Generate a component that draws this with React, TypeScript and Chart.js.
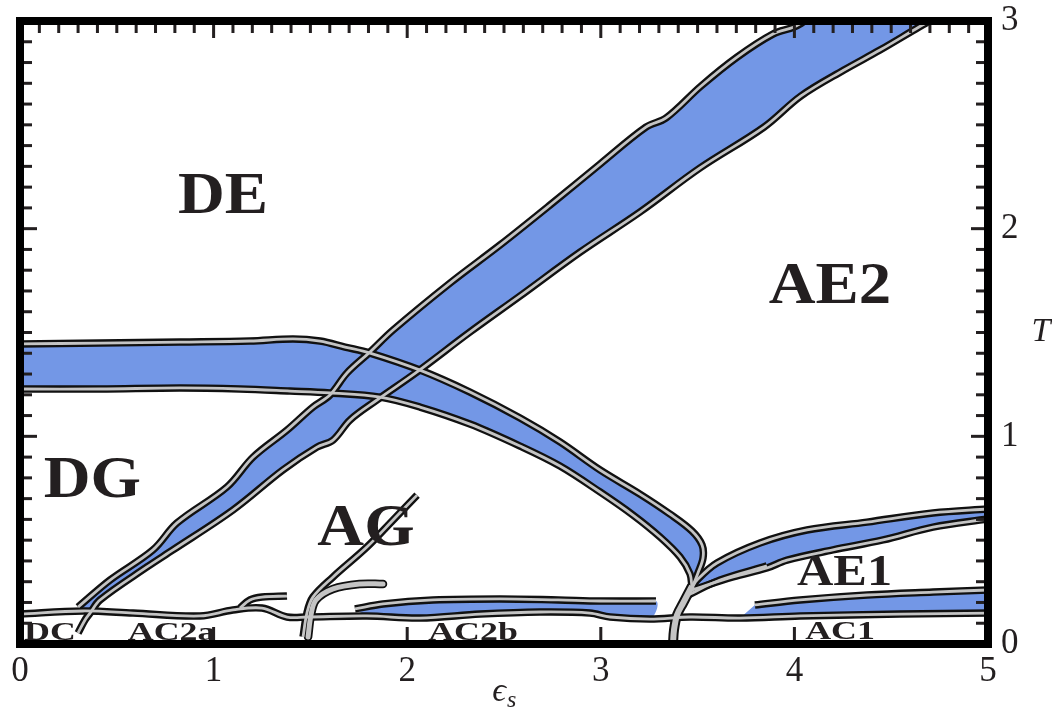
import React, { useEffect, useRef } from 'react';
import { Chart, registerables } from 'chart.js';

Chart.register(...registerables);

type P = { x: number; y: number };
const pts = (a: number[][]): P[] => a.map(([x, y]) => ({ x, y }));

// Axis ticks (ε_s along the bottom, T on the right)
const EPS_TICKS = [0, 1, 2, 3, 4, 5];
const T_TICKS = [0, 1, 2, 3];

// DG → DE crossover band, bending down into the triple point near ε_s ≈ 3.47
const DG_DE_UPPER = pts([
  [0, 1.445], [0.413, 1.449], [0.826, 1.454], [1.188, 1.459], [1.41, 1.469], [1.55, 1.459],
  [1.679, 1.43], [1.808, 1.401], [2.066, 1.319], [2.324, 1.213], [2.583, 1.088], [2.789, 0.973],
  [2.996, 0.838], [3.202, 0.722], [3.357, 0.626], [3.471, 0.544], [3.523, 0.477], [3.528, 0.414],
  [3.502, 0.342], [3.471, 0.27],
]);
const DG_DE_LOWER = pts([
  [0, 1.228], [0.413, 1.228], [0.826, 1.233], [1.136, 1.228], [1.395, 1.218], [1.601, 1.209],
  [1.86, 1.189], [2.066, 1.141], [2.324, 1.059], [2.583, 0.953], [2.789, 0.857], [2.996, 0.732],
  [3.166, 0.621], [3.306, 0.515], [3.409, 0.419], [3.461, 0.337], [3.471, 0.27],
]);

// AG/DG → DE/AE2 diagonal band
const AG_AE2_UPPER = pts([
  [0.3, 0.178], [0.465, 0.308], [0.687, 0.453], [0.811, 0.583], [1.069, 0.756], [1.204, 0.9],
  [1.379, 1.03], [1.513, 1.141], [1.601, 1.199], [1.689, 1.305], [1.808, 1.406], [1.927, 1.512],
  [2.221, 1.738], [2.479, 1.921], [2.738, 2.114], [2.996, 2.311], [3.233, 2.489], [3.337, 2.533],
  [3.518, 2.687], [3.704, 2.826], [3.889, 2.937], [3.998, 2.971], [4.055, 3.0],
]);
const AG_AE2_LOWER = pts([
  [0.3, 0.053], [0.336, 0.116], [0.362, 0.149], [0.413, 0.212], [0.656, 0.371], [0.79, 0.453],
  [1.1, 0.645], [1.358, 0.838], [1.534, 0.948], [1.617, 0.982], [1.705, 1.079], [1.844, 1.175],
  [2.051, 1.31], [2.324, 1.502], [2.583, 1.676], [2.893, 1.887], [3.202, 2.08], [3.512, 2.292],
  [3.843, 2.489], [4.034, 2.639], [4.256, 2.764], [4.442, 2.86], [4.644, 2.971], [4.7, 3.0],
]);

// AE1 band fanning out of the triple point
const AE1_UPPER = pts([
  [3.471, 0.27], [3.497, 0.308], [3.6, 0.39], [3.822, 0.486], [4.065, 0.549], [4.375, 0.587],
  [4.716, 0.631], [5.0, 0.65],
]);
const AE1_LOWER = pts([
  [3.471, 0.26], [3.683, 0.323], [3.858, 0.366], [3.962, 0.404], [4.199, 0.453], [4.458, 0.501],
  [4.716, 0.563], [5.0, 0.602],
]);
const AE1_INNER = pts([[3.45, 0.236], [3.616, 0.308], [3.858, 0.376]]);

// Merged boundary below the triple point
const TRIPLE_STEM = pts([[3.471, 0.279], [3.425, 0.197], [3.394, 0.14], [3.378, 0.067], [3.373, 0.0]]);

// Low-temperature condensed boundary
const BASELINE = pts([
  [0, 0.144], [0.325, 0.159], [0.584, 0.149], [0.93, 0.135], [1.1, 0.164], [1.25, 0.173],
  [1.379, 0.13], [1.482, 0.13], [1.792, 0.135], [2.066, 0.125], [2.376, 0.144], [2.686, 0.154],
  [2.944, 0.149], [3.048, 0.13], [3.254, 0.12], [3.461, 0.13], [3.719, 0.125], [4.029, 0.135],
  [4.545, 0.144], [5.0, 0.149],
]);
const AC2B_TOP = pts([
  [1.73, 0.169], [1.875, 0.193], [2.133, 0.212], [2.479, 0.217], [2.78, 0.212], [2.996, 0.207], [3.285, 0.207],
]);
const AC1_TOP = pts([[3.796, 0.188], [4.029, 0.212], [4.375, 0.236], [4.716, 0.25], [5.0, 0.26]]);

// Short boundaries inside AC2a / AG
const AC2A_HOOK = pts([[1.136, 0.173], [1.188, 0.212], [1.25, 0.226], [1.379, 0.231]]);
const AG_SPLIT_LINE = pts([
  [1.462, 0.034], [1.482, 0.149], [1.513, 0.226], [1.617, 0.323], [1.792, 0.467], [1.927, 0.597], [2.051, 0.717],
]);
const AG_SPLIT_BRANCH = pts([
  [1.488, 0.034], [1.503, 0.14], [1.529, 0.212], [1.617, 0.265], [1.756, 0.289], [1.875, 0.289],
]);

// Phase labels and their anchor (centre, baseline) in (ε_s, T)
const REGION_NAMES = ['DE', 'DG', 'AG', 'AE2', 'AE1', 'DC', 'AC2a', 'AC2b', 'AC1'];
const REGION_EPS = [1.049, 0.374, 1.787, 4.184, 4.259, 0.155, 0.783, 2.34, 4.236];
const REGION_T = [2.075, 0.708, 0.477, 1.642, 0.284, 0.019, 0.019, 0.019, 0.024];

const BLUE = '#7397e6';
const CASE = '#111111';
const CORE = '#c4c4c4';
const INK = '#231f20';
const SERIF = "'Liberation Serif', 'DejaVu Serif', serif";
const TENSION = 0.35;

// baseline points lying under a band; `reach` extends one sample past the left end
const under = (line: P[], lo: number, hi: number, reach = false) => {
  let i0 = line.findIndex((p) => p.x >= lo);
  if (reach) i0 = Math.max(0, i0 - 1);
  let i1 = line.length - 1;
  for (let i = line.length - 1; i >= 0; i--) {
    if (line[i].x <= hi) {
      i1 = i;
      break;
    }
  }
  return line.slice(i0, i1 + 1);
};

const bandPoly = (upper: P[], lower: P[]): P[] => [...upper, ...lower.slice().reverse()];

function band(data: P[]) {
  return {
    data,
    borderWidth: 0,
    backgroundColor: BLUE,
    fill: 'shape',
    pointRadius: 0,
    tension: TENSION,
    order: 10,
  };
}

function cased(data: P[], outer = 7.5, inner = 2.8, cap: CanvasLineCap = 'butt') {
  const base = {
    data,
    fill: false,
    pointRadius: 0,
    tension: TENSION,
    borderCapStyle: cap,
    borderJoinStyle: 'round' as CanvasLineJoin,
  };
  return [
    { ...base, borderColor: CASE, borderWidth: outer, order: 5 },
    { ...base, borderColor: CORE, borderWidth: inner, order: 1 },
  ];
}

const labelStyle = (name: string) => {
  if (name === 'AE1') return { size: 45, stretch: 1.12 };
  if (['DE', 'DG', 'AG', 'AE2'].includes(name)) return { size: 60, stretch: 1.08 };
  return { size: 26, stretch: 1.38 };
};

const framePlugin = {
  id: 'phaseFrame',
  afterDatasetsDraw(chart: any) {
    const { ctx, scales } = chart;
    const xs = scales.x;
    const ys = scales.y;
    const L = xs.getPixelForValue(0);
    const R = xs.getPixelForValue(5);
    const B = ys.getPixelForValue(0);
    const Tp = ys.getPixelForValue(3);
    ctx.save();

    // inward tick marks
    ctx.fillStyle = INK;
    for (let i = 0; i <= 30; i++) {
      const py = ys.getPixelForValue(i / 10);
      const len = i % 10 === 0 ? 17 : 12;
      ctx.fillRect(L, py - 1.5, len, 3);
      ctx.fillRect(R - len, py - 1.5, len, 3);
    }
    for (let i = 0; i <= 50; i++) {
      const px = xs.getPixelForValue(i / 10);
      const major = i % 10 === 0;
      ctx.fillRect(px - 1.5, Tp, 3, major ? 17 : 12);
      if (major) ctx.fillRect(px - 1.5, B - 17, 3, 17);
    }

    // heavy frame
    ctx.lineWidth = 8;
    ctx.strokeStyle = '#000';
    ctx.strokeRect(L, Tp, R - L, B - Tp);

    // phase labels
    ctx.fillStyle = INK;
    ctx.textAlign = 'center';
    ctx.textBaseline = 'alphabetic';
    REGION_NAMES.forEach((name, i) => {
      const { size, stretch } = labelStyle(name);
      ctx.save();
      ctx.font = `bold ${size}px ${SERIF}`;
      ctx.translate(xs.getPixelForValue(REGION_EPS[i]), ys.getPixelForValue(REGION_T[i]));
      ctx.scale(stretch, 1);
      ctx.fillText(name, 0, 0);
      ctx.restore();
    });

    // axis titles
    const cx = (L + R) / 2;
    ctx.font = `italic 34px ${SERIF}`;
    ctx.textAlign = 'right';
    ctx.fillText('\u03f5', cx + 2, B + 57);
    ctx.font = `italic 24px ${SERIF}`;
    ctx.textAlign = 'left';
    ctx.fillText('s', cx + 3, B + 63);
    ctx.font = `italic 34px ${SERIF}`;
    ctx.textAlign = 'center';
    ctx.textBaseline = 'middle';
    ctx.fillText('T', R + 53, (Tp + B) / 2);
    ctx.restore();
  },
};

export default function App() {
  const ref = useRef<HTMLCanvasElement | null>(null);

  useEffect(() => {
    document.body.style.margin = '0';
    if (!ref.current) return;

    const datasets: any[] = [
      band(bandPoly(DG_DE_UPPER, DG_DE_LOWER)),
      band(bandPoly(AG_AE2_UPPER, AG_AE2_LOWER.slice(2))),
      band(bandPoly(AE1_UPPER, AE1_LOWER)),
      band(bandPoly(AC2B_TOP, under(BASELINE, AC2B_TOP[0].x, AC2B_TOP[AC2B_TOP.length - 1].x))),
      band(bandPoly(AC1_TOP, under(BASELINE, AC1_TOP[0].x, 5, true))),
      ...cased(BASELINE),
      ...cased(AC2B_TOP),
      ...cased(AC1_TOP),
      ...cased(AC2A_HOOK),
      ...cased(AG_SPLIT_LINE),
      ...cased(AG_SPLIT_BRANCH, 8.5, 5, 'round'),
      ...cased(DG_DE_UPPER),
      ...cased(DG_DE_LOWER),
      ...cased(AG_AE2_UPPER),
      ...cased(AG_AE2_LOWER),
      ...cased(AE1_UPPER),
      ...cased(AE1_LOWER),
      ...cased(AE1_INNER),
      ...cased(TRIPLE_STEM, 10, 6),
    ];

    const tickFont = { family: SERIF, size: 35 };
    const noPad = (s: any) => {
      s.paddingTop = 0;
      s.paddingBottom = 0;
      s.paddingLeft = 0;
      s.paddingRight = 0;
    };
    const chart = new Chart(ref.current, {
      type: 'line',
      data: { datasets },
      options: {
        responsive: false,
        animation: false,
        events: [],
        layout: { padding: { left: 20, top: 21, right: 0, bottom: 0 } },
        plugins: { legend: { display: false }, tooltip: { enabled: false } },
        scales: {
          x: {
            type: 'linear',
            position: 'bottom',
            min: 0,
            max: 5,
            afterBuildTicks: (s: any) => {
              s.ticks = EPS_TICKS.map((value) => ({ value }));
            },
            afterFit: (s: any) => {
              s.height = 66;
              noPad(s);
            },
            grid: { display: false, drawTicks: false },
            border: { display: false },
            ticks: { font: tickFont, color: INK, padding: 7, maxRotation: 0 },
          },
          y: {
            type: 'linear',
            position: 'right',
            min: 0,
            max: 3,
            afterBuildTicks: (s: any) => {
              s.ticks = T_TICKS.map((value) => ({ value }));
            },
            afterFit: (s: any) => {
              s.width = 64;
              noPad(s);
            },
            grid: { display: false, drawTicks: false },
            border: { display: false },
            ticks: { font: tickFont, color: INK, padding: 13 },
          },
        },
      },
      plugins: [framePlugin],
    });
    return () => chart.destroy();
  }, []);

  return <canvas ref={ref} width={1052} height={710} style={{ display: 'block' }} />;
}
